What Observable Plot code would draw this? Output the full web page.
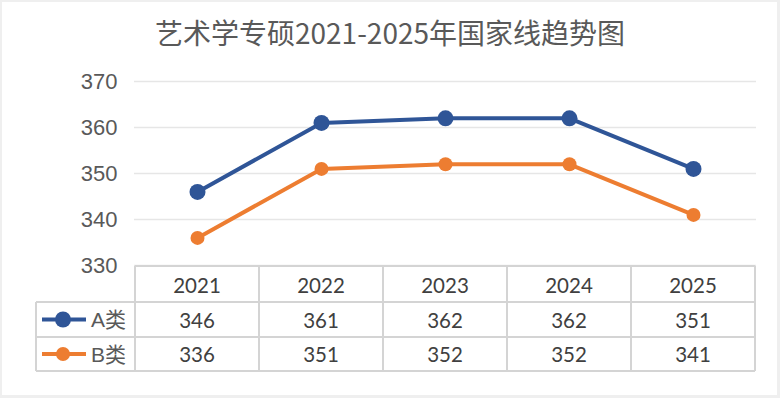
<!DOCTYPE html>
<html><head><meta charset="utf-8">
<script src="https://cdn.jsdelivr.net/npm/d3@7"></script>
<script src="https://cdn.jsdelivr.net/npm/@observablehq/plot@0.6"></script>
<style>
body{margin:0;background:#efefef;width:780px;height:398px;overflow:hidden;position:relative;}
#frame{position:absolute;left:2px;top:2px;width:775px;height:393px;background:#fff;}
#title{position:absolute;left:0;top:18px;width:780px;text-align:center;font-family:"Noto Sans CJK SC",sans-serif;font-size:28px;line-height:28px;color:#595959;white-space:nowrap;}
#chart{position:absolute;left:0;top:60px;}
#table{position:absolute;left:0;top:0;}
</style></head><body>
<div id="frame"></div>
<div id="title">艺术学专硕2021-2025年国家线趋势图</div>
<div id="chart"></div>
<svg id="table" width="780" height="398"></svg>
<script>
const years = ["2021","2022","2023","2024","2025"];
const seriesNames = ["A类","B类"];
const valuesA = [346,361,362,362,351];
const valuesB = [336,351,352,352,341];
const seriesColors = ["#2F5597","#ED7D31"];
const yTicks = [330,340,350,360,370];

const data = years.flatMap((yr,i)=>[
  {year:yr, series:seriesNames[0], value:valuesA[i]},
  {year:yr, series:seriesNames[1], value:valuesB[i]}
]);
const chartTop = 60;
const chart = Plot.plot({
  width:780, height:210, marginTop:21, marginBottom:5, marginLeft:134, marginRight:24,
  style:{fontFamily:"'Liberation Sans', Arial, sans-serif", fontSize:"22px", color:"#595959", background:"transparent", overflow:"visible"},
  x:{type:"band", domain:years, padding:0, axis:null},
  y:{domain:[330,370], ticks:yTicks, tickSize:0, tickPadding:17, label:null, tickFormat:d=>String(d)},
  color:{domain:seriesNames, range:seriesColors},
  marks:[
    Plot.ruleY(yTicks, {stroke:"#e6e6e6", strokeWidth:1.5}),
    Plot.line(data, {x:"year", y:"value", z:"series", stroke:"series", strokeWidth:4}),
    Plot.dot(data.filter(d=>d.series===seriesNames[0]), {x:"year", y:"value", fill:"series", r:8}),
    Plot.dot(data.filter(d=>d.series===seriesNames[1]), {x:"year", y:"value", fill:"series", r:7})
  ]
});
document.getElementById("chart").appendChild(chart);

// data table below the chart, aligned with the chart's x band scale
const xs = chart.scale("x"), ys = chart.scale("y");
const bw = xs.bandwidth;
const tTop = chartTop + ys.apply(330) + 1;
const rowH = [36, 35, 34];
const r1 = tTop + rowH[0], r2 = r1 + rowH[1], r3 = r2 + rowH[2];
const colL = 36;
const x0 = xs.apply(years[0]), xEnd = xs.apply(years[years.length-1]) + bw;
const svg = d3.select("#table");
const lc = "#d4d4d4", lw = 2;
const H = (xa, xb, y) => svg.append("line").attr("x1",xa).attr("x2",xb).attr("y1",y).attr("y2",y).attr("stroke",lc).attr("stroke-width",lw);
const V = (x, ya, yb) => svg.append("line").attr("x1",x).attr("x2",x).attr("y1",ya).attr("y2",yb).attr("stroke",lc).attr("stroke-width",lw);
H(x0, xEnd, tTop); H(colL, xEnd, r1); H(colL, xEnd, r2); H(colL, xEnd, r3);
V(colL, r1, r3);
years.forEach(y => V(xs.apply(y), tTop, r3));
V(xEnd, tTop, r3);

const tf = "Lato, 'Noto Sans', sans-serif";
const T = (x, y, s, anchor="middle") => svg.append("text").attr("x",x).attr("y",y).attr("text-anchor",anchor)
  .attr("dominant-baseline","central").attr("font-family",tf).attr("font-size",20.5).attr("fill","#404040").text(s);
years.forEach((yr,i)=>{
  const cx = xs.apply(yr) + bw/2;
  T(cx, tTop + rowH[0]/2 + 1, yr);
  T(cx, r1 + rowH[1]/2, String(valuesA[i]));
  T(cx, r2 + rowH[2]/2, String(valuesB[i]));
});
// legend keys in the first column
[[r1 + rowH[1]/2, 0, 8], [r2 + rowH[2]/2, 1, 7]].forEach(([cy, k, rr])=>{
  svg.append("line").attr("x1",42).attr("x2",86).attr("y1",cy).attr("y2",cy).attr("stroke",seriesColors[k]).attr("stroke-width",4);
  svg.append("circle").attr("cx",63).attr("cy",cy).attr("r",rr).attr("fill",seriesColors[k]);
  svg.append("text").attr("x",91).attr("y",cy).attr("dominant-baseline","central")
    .attr("font-family","'Liberation Sans', 'Noto Sans CJK SC', sans-serif").attr("font-size",21).attr("fill","#595959").text(seriesNames[k]);
});
</script>
</body></html>
